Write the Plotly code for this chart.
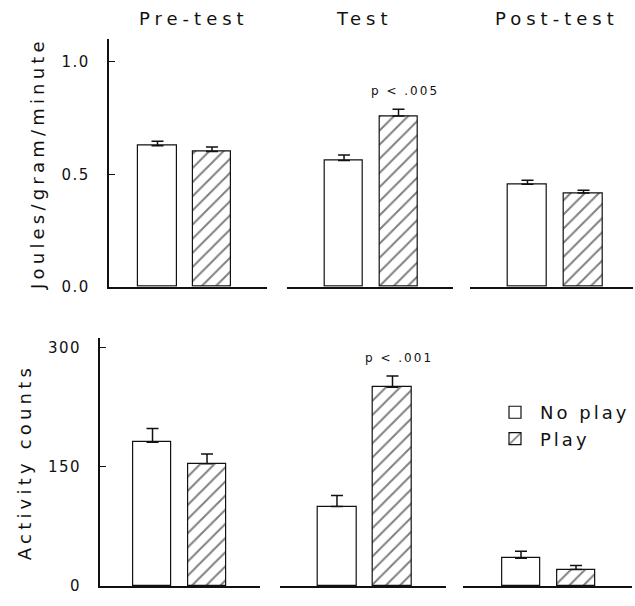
import plotly.graph_objects as go

# ---------------- data ----------------
conditions = ["Pre-test", "Test", "Post-test"]
groups = ["No play", "Play"]

energy_noplay = [0.627, 0.561, 0.456]
energy_noplay_se = [0.02, 0.025, 0.017]
energy_play = [0.601, 0.759, 0.417]
energy_play_se = [0.02, 0.03, 0.012]

activity_noplay = [181, 100, 35]
activity_noplay_se = [17, 14, 9]
activity_play = [154, 250, 21]
activity_play_se = [12, 14, 5]

energy_ticks = [0.0, 0.5, 1.0]
activity_ticks = [0, 150, 300]
energy_title = "Joules/gram/minute"
activity_title = "Activity counts"
p_labels = ["p < .005", "p < .001"]   # shown above the Test / Play bars

# ---------------- layout helpers ----------------
W, H = 635, 606
FONT = "DejaVu Sans"
INK = "#111111"


def sp(t, s=2):
    return f"<span style='letter-spacing:{s}px'>{t}</span>"


top_x_px = [(109, 266.5), (286.8, 453), (469.8, 632.8)]
top_ranges = [[-0.89, 2.0], [-1.05, 2.0], [-1.03, 1.88]]
bot_x_px = [(100.2, 259.9), (279.8, 445.8), (463.25, 632.1)]
bot_ranges = [[-0.96, 1.97], [-1.03, 1.96], [-1.05, 2.02]]
top_y_px = (40, 291)
bot_y_px = (343, 595)
top_range = [0, 1.1]
bot_range = [0, 312]

fig = go.Figure()

rows = [
    (energy_noplay, energy_noplay_se, energy_play, energy_play_se),
    (activity_noplay, activity_noplay_se, activity_play, activity_play_se),
]

layout = {}
for r, (nv, ns, pv, ps) in enumerate(rows):
    for c in range(3):
        idx = r * 3 + c + 1
        xa = "x" if idx == 1 else f"x{idx}"
        ya = "y" if idx == 1 else f"y{idx}"
        for g, vals, ses in ((0, nv, ns), (1, pv, ps)):
            marker = dict(color="white", line=dict(color=INK, width=1.2))
            if g == 1:
                marker["pattern"] = dict(shape="/", size=10, solidity=0.2,
                                         fgcolor="black", bgcolor="white")
            fig.add_trace(go.Bar(
                x=[groups[g]], y=[vals[c]], width=0.7,
                xaxis=xa, yaxis=ya, name=sp(groups[g], 3),
                marker=marker,
                error_y=dict(type="data", array=[ses[c]], arrayminus=[0],
                             symmetric=False, color=INK, thickness=1.5, width=6),
                showlegend=(r == 1 and c == 0),
                legendgroup=groups[g],
            ))
        xpx = (top_x_px if r == 0 else bot_x_px)[c]
        xr = (top_ranges if r == 0 else bot_ranges)[c]
        ypx = top_y_px if r == 0 else bot_y_px
        yr = top_range if r == 0 else bot_range
        layout["xaxis" if idx == 1 else f"xaxis{idx}"] = dict(
            domain=[xpx[0] / W, xpx[1] / W], range=xr, anchor=ya,
            type="category", categoryorder="array", categoryarray=groups,
            showline=True, linecolor=INK, linewidth=2.2, ticks="",
            showticklabels=False, showgrid=False, zeroline=False,
            fixedrange=True,
        )
        yd = dict(domain=[1 - ypx[1] / H, 1 - ypx[0] / H], range=yr,
                  anchor=xa, showgrid=False, zeroline=False, fixedrange=True)
        if c == 0:
            ticks = energy_ticks if r == 0 else activity_ticks
            yd.update(
                showline=True, linecolor=INK, linewidth=2.2,
                ticks="inside", ticklen=6, tickwidth=1.3, tickcolor=INK,
                tickvals=ticks,
                ticktext=[sp(f"{t:.1f}" if r == 0 else f"{t}", 1.5) for t in ticks],
                tickfont=dict(family=FONT, size=15, color=INK),
                ticklabelstandoff=14,
                title=dict(text=sp(energy_title if r == 0 else activity_title, 4.2),
                           font=dict(family=FONT, size=18, color=INK),
                           standoff=12),
            )
        else:
            yd.update(visible=False)
        layout["yaxis" if idx == 1 else f"yaxis{idx}"] = yd

annotations = []
title_cx = [194, 364, 557]
for c, t in enumerate(conditions):
    annotations.append(dict(
        text=sp(t, 5), x=title_cx[c] / W, y=1 - 19 / H, xref="paper", yref="paper",
        showarrow=False, xanchor="center", yanchor="middle",
        font=dict(family=FONT, size=18, color=INK)))

# significance labels above the Test/Play bars
annotations.append(dict(
    text=sp(p_labels[0], 2), x=groups[1], y=energy_play[1] + energy_play_se[1],
    xref="x2", yref="y2", showarrow=False, xanchor="center", yanchor="bottom",
    xshift=6, yshift=9, font=dict(family=FONT, size=12, color=INK)))
annotations.append(dict(
    text=sp(p_labels[1], 2), x=groups[1], y=activity_play[1] + activity_play_se[1],
    xref="x5", yref="y5", showarrow=False, xanchor="center", yanchor="bottom",
    xshift=6, yshift=9, font=dict(family=FONT, size=12, color=INK)))

fig.update_layout(
    width=W, height=H, margin=dict(l=0, r=0, t=0, b=0),
    paper_bgcolor="white", plot_bgcolor="white",
    barmode="overlay", bargap=0,
    annotations=annotations,
    legend=dict(x=490 / W, y=1 - 400 / H, xanchor="left", yanchor="top",
                font=dict(family=FONT, size=18, color=INK),
                bgcolor="rgba(0,0,0,0)", tracegroupgap=2, itemwidth=40,
                traceorder="normal"),
    font=dict(family=FONT, color=INK),
    **layout,
)

fig.write_html("out.html")
